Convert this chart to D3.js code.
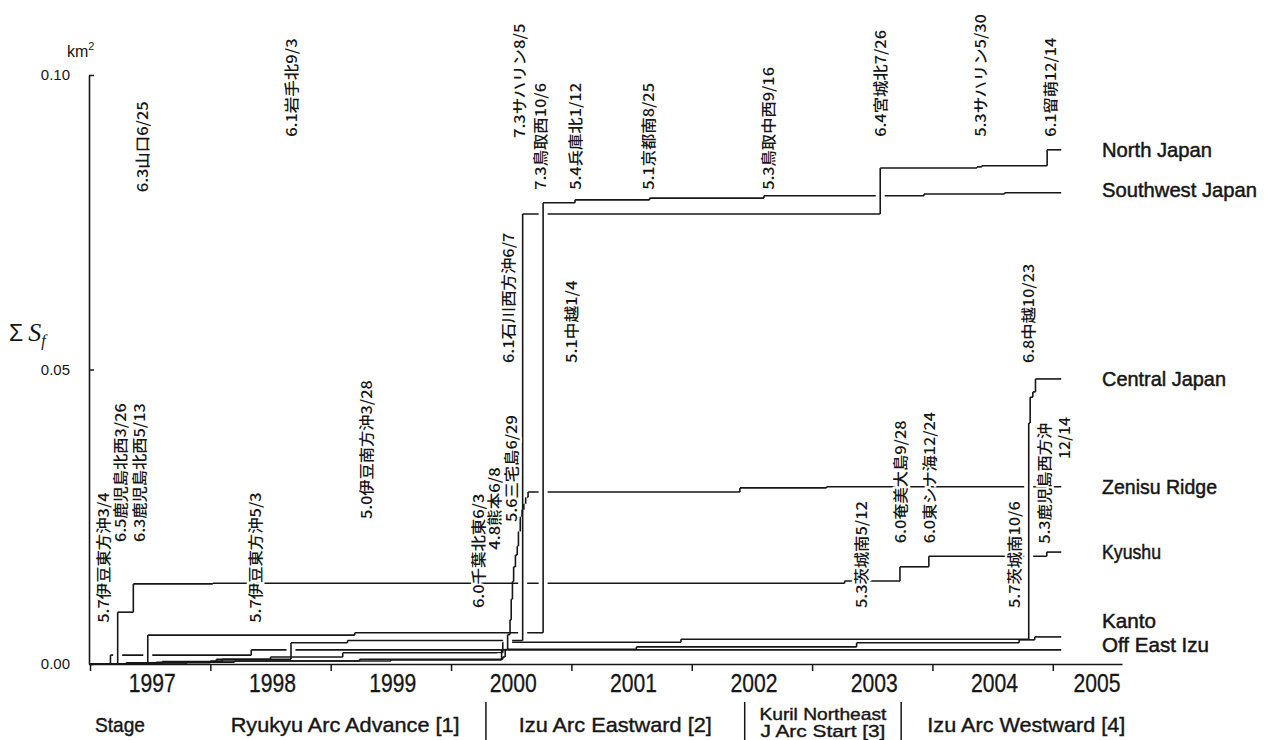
<!DOCTYPE html>
<html>
<head>
<meta charset="utf-8">
<script src="https://cdn.jsdelivr.net/npm/d3@7"></script>
<style>
  body { margin: 0; background: #fff; }
  svg { display: block; }
</style>
</head>
<body>
<svg id="chart" width="1266" height="740"></svg>
<script>
// Cumulative fault area ΣSf (km²) of shallow earthquakes, by region, 1997–2005.
// Each series is a step curve: value holds from its date until the next date.

const seriesEnd = 2005.07;

const northJapanDates  = [1997.0, 1997.55, 1998.05, 1998.67, 1999.14, 2000.595, 2003.566, 2004.37, 2004.41, 2004.953];
const northJapanValues = [0, 0.0003, 0.0008, 0.0036, 0.0040, 0.0764, 0.0842, 0.0844, 0.0846, 0.0873];

const southwestJapanDates  = [1997.0, 1997.48, 1999.2, 2000.765, 2001.03, 2001.65, 2002.6, 2003.93, 2004.6];
const southwestJapanValues = [0, 0.0049, 0.0053, 0.0783, 0.0788, 0.0791, 0.0795, 0.0798, 0.0800];

const centralJapanDates  = [1997.0, 1997.6, 1998.1, 1998.5, 1999.1, 2000.43, 2001.91, 2004.800, 2004.812, 2004.834, 2004.856];
const centralJapanValues = [0, 0.0004, 0.0008, 0.0012, 0.0019, 0.0037, 0.0042, 0.0409, 0.0453, 0.0462, 0.0484];

const zenisuDates  = [1997.0, 1997.8, 1998.2, 1999.24, 2000.43, 2000.45, 2000.47, 2000.49, 2000.50, 2000.51, 2000.52,
                      2000.535, 2000.55, 2000.56, 2000.575, 2000.59, 2000.605, 2000.62, 2000.64, 2002.40, 2003.12];
const zenisuValues = [0, 0.0003, 0.0005, 0.0008, 0.0012, 0.0025, 0.0050, 0.0075, 0.0110, 0.0140, 0.0165,
                      0.0185, 0.0200, 0.0225, 0.0250, 0.0262, 0.0272, 0.0283, 0.0292, 0.0299, 0.0301];

const kyushuDates  = [1997.0, 1997.23, 1997.36, 1998.02, 2003.27, 2003.73, 2003.97, 2004.95];
const kyushuValues = [0, 0.0088, 0.0136, 0.0137, 0.0141, 0.0165, 0.0183, 0.0190];

const kantoDates  = [1997.0, 1997.3, 1998.0, 1999.5, 2000.42, 2001.54, 2003.37, 2004.72, 2004.85];
const kantoValues = [0, 0.0002, 0.0005, 0.0007, 0.0025, 0.0029, 0.0036, 0.0041, 0.0046];

const offEastIzuDates  = [1997.0, 1997.17, 1998.34];
const offEastIzuValues = [0, 0.0015, 0.0024];

const regionNames = ["North Japan", "Southwest Japan", "Central Japan", "Zenisu Ridge", "Kyushu", "Kanto", "Off East Izu"];

// Earthquake annotations: magnitude + place + month/day, at the event date
const quakeTexts = [
  "5.7伊豆東方沖3/4", "6.5鹿児島北西3/26", "6.3鹿児島北西5/13", "6.3山口6/25", "5.7伊豆東方沖5/3",
  "6.1岩手北9/3", "5.0伊豆南方沖3/28", "6.0千葉北東6/3", "4.8熊本6/8", "6.1石川西方沖6/7",
  "5.6三宅島6/29", "7.3サハリン8/5", "7.3鳥取西10/6", "5.1中越1/4", "5.4兵庫北1/12",
  "5.1京都南8/25", "5.3鳥取中西9/16", "5.3茨城南5/12", "6.4宮城北7/26", "6.0奄美大島9/28",
  "6.0東シナ海12/24", "5.3サハリン5/30", "5.7茨城南10/6", "6.8中越10/23", "6.1留萌12/14",
  "5.3鹿児島西方沖", "12/14"
];
const quakeDates = [
  1997.108, 1997.241, 1997.407, 1997.432, 1998.363,
  1998.663, 1999.286, 2000.217, 2000.350, 2000.467,
  2000.492, 2000.558, 2000.733, 2000.990, 2001.024,
  2001.630, 2002.628, 2003.401, 2003.559, 2003.725,
  2003.967, 2004.390, 2004.673, 2004.790, 2004.972,
  2004.920, 2005.090
];
// value on the ΣSf axis where each rotated label starts
const quakeFoot = [
  0.0070, 0.0207, 0.0207, 0.0801, 0.0070,
  0.0895, 0.0246, 0.0095, 0.0194, 0.0511,
  0.0241, 0.0893, 0.0805, 0.0511, 0.0805,
  0.0805, 0.0805, 0.0095, 0.0895, 0.0205,
  0.0205, 0.0895, 0.0095, 0.0511, 0.0895,
  0.0204, 0.0348
];

const yTickValues = [0, 0.05, 0.10];
const yearLabels = ["1997", "1998", "1999", "2000", "2001", "2002", "2003", "2004", "2005"];

const stageNames = ["Ryukyu Arc Advance [1]", "Izu Arc Eastward [2]", "Kuril Northeast|J Arc Start [3]", "Izu Arc Westward [4]"];
const stageStarts = [1997.95, 2000.29, 2002.44, 2003.74];
const stageEnds   = [2000.29, 2002.44, 2003.74, 2005.82];

// ---------------------------------------------------------------------------

const series = [
  { name: regionNames[0], dates: northJapanDates, values: northJapanValues, dy: 7, w: 110 },
  { name: regionNames[1], dates: southwestJapanDates, values: southwestJapanValues, dy: 4, w: 155 },
  { name: regionNames[2], dates: centralJapanDates, values: centralJapanValues, dy: 7, w: 124 },
  { name: regionNames[3], dates: zenisuDates, values: zenisuValues, dy: 7, w: 115 },
  { name: regionNames[4], dates: kyushuDates, values: kyushuValues, dy: 7, w: 59 },
  { name: regionNames[5], dates: kantoDates, values: kantoValues, dy: -9, w: 54 },
  { name: regionNames[6], dates: offEastIzuDates, values: offEastIzuValues, dy: 2, w: 107 }
];

const svg = d3.select("#chart");
const x = d3.scaleLinear().domain([1997, 2005.575]).range([90, 1122]);
const y = d3.scaleLinear().domain([0, 0.10]).range([664, 75]);

const ink = "#161616";
const sans = "'Liberation Sans', Arial, sans-serif";
const jp = "'Noto Sans CJK JP', sans-serif";

// --- axes ---
const yAxis = d3.axisLeft(y).tickValues(yTickValues).tickSize(-5).tickSizeOuter(0)
  .tickPadding(19).tickFormat(d3.format(".2f"));
const gy = svg.append("g").attr("transform", "translate(89,0)").call(yAxis);
gy.select(".domain").attr("stroke", ink).attr("stroke-width", 1.6);
gy.selectAll(".tick line").attr("stroke", ink).attr("stroke-width", 1.5);
gy.selectAll(".tick text").attr("font-family", sans).attr("font-size", 15).attr("fill", ink);

const xAxis = d3.axisBottom(x).tickValues(d3.range(1997, 2006)).tickSize(7).tickSizeOuter(0).tickFormat("");
const gx = svg.append("g").attr("transform", "translate(0,664)").call(xAxis);
gx.select(".domain").attr("stroke", ink).attr("stroke-width", 1.6);
gx.selectAll(".tick line").attr("stroke", ink).attr("stroke-width", 1.5);

svg.append("g").selectAll("text").data(yearLabels).join("text")
  .attr("x", (d, i) => Math.min(x(+d + 0.5) + 2, 1097))
  .attr("y", 692)
  .attr("text-anchor", "middle")
  .attr("font-family", sans).attr("font-size", 26).attr("fill", ink)
  .attr("stroke", ink).attr("stroke-width", 0.3)
  .attr("textLength", 47).attr("lengthAdjust", "spacingAndGlyphs")
  .text(d => d);

// unit and axis title
const unit = svg.append("text").attr("x", 67).attr("y", 57)
  .attr("font-family", sans).attr("font-size", 16).attr("fill", ink);
unit.append("tspan").text("km");
unit.append("tspan").attr("font-size", 11).attr("dy", -7).text("2");

const title = svg.append("text").attr("x", 9).attr("y", 341)
  .attr("font-family", sans).attr("font-size", 23).attr("fill", ink);
title.append("tspan").text("Σ");
title.append("tspan").attr("dx", 5).attr("font-family", "'Liberation Serif', serif")
  .attr("font-style", "italic").attr("font-size", 26).text("S");
title.append("tspan").attr("dy", 5).attr("font-family", "'Liberation Serif', serif")
  .attr("font-style", "italic").attr("font-size", 16).text("f");

// --- step curves: horizontal runs first, then risers with a white halo ---
const hSegs = [], vSegs = [];
series.forEach(s => {
  s.dates.forEach((d, i) => {
    const next = i + 1 < s.dates.length ? s.dates[i + 1] : seriesEnd;
    hSegs.push({ x1: x(d), x2: x(next), y: y(s.values[i]) });
    if (i > 0) vSegs.push({ x: x(d), y1: y(s.values[i - 1]), y2: y(s.values[i]) });
  });
});

const lines = svg.append("g");
lines.selectAll("line.h").data(hSegs).join("line").attr("class", "h")
  .attr("x1", d => d.x1).attr("x2", d => d.x2).attr("y1", d => d.y).attr("y2", d => d.y)
  .attr("stroke", ink).attr("stroke-width", 1.6);

const tall = vSegs.filter(d => Math.abs(d.y1 - d.y2) > 10);
lines.selectAll("line.halo").data(tall).join("line").attr("class", "halo")
  .attr("x1", d => d.x).attr("x2", d => d.x)
  .attr("y1", d => d.y1 - 4).attr("y2", d => d.y2 + 4)
  .attr("stroke", "#fff").attr("stroke-width", 9);
lines.selectAll("line.v").data(vSegs).join("line").attr("class", "v")
  .attr("x1", d => d.x).attr("x2", d => d.x).attr("y1", d => d.y1).attr("y2", d => d.y2)
  .attr("stroke", ink).attr("stroke-width", 1.6);

// --- region names at the right end of each curve ---
svg.append("g").selectAll("text").data(series).join("text")
  .attr("x", 1102)
  .attr("y", d => y(d.values[d.values.length - 1]) + d.dy)
  .attr("font-family", sans).attr("font-size", 21).attr("fill", ink)
  .attr("stroke", ink).attr("stroke-width", 0.5)
  .attr("textLength", d => d.w).attr("lengthAdjust", "spacingAndGlyphs")
  .text(d => d.name);

// --- earthquake labels, written upward ---
const textLen = t => Array.from(t).reduce((a, c) => a + (c.codePointAt(0) >= 0x3000 ? 16 : 8.4), 0);
svg.append("g").selectAll("text").data(quakeTexts).join("text")
  .attr("transform", (t, i) => `translate(${x(quakeDates[i])},${y(quakeFoot[i])}) rotate(-90)`)
  .attr("dominant-baseline", "central")
  .attr("font-family", jp).attr("font-size", 15).attr("font-weight", 500).attr("fill", ink)
  .attr("stroke", "#fff").attr("stroke-width", 4).attr("paint-order", "stroke")
  .attr("textLength", t => textLen(t)).attr("lengthAdjust", "spacingAndGlyphs")
  .text(t => t);

// --- stage row ---
const stageG = svg.append("g").attr("font-family", sans).attr("fill", ink)
  .attr("stroke", ink).attr("stroke-width", 0.4);
stageG.append("text").attr("x", 95).attr("y", 732).attr("font-size", 21)
  .attr("textLength", 50).attr("lengthAdjust", "spacingAndGlyphs").text("Stage");

const stageW = [229, 193, 127, 198];
stageNames.forEach((nm, i) => {
  const cx = (x(stageStarts[i]) + x(stageEnds[i])) / 2;
  const parts = nm.split("|");
  if (parts.length === 1) {
    stageG.append("text").attr("x", cx).attr("y", 732).attr("text-anchor", "middle")
      .attr("font-size", 21).attr("textLength", stageW[i]).attr("lengthAdjust", "spacingAndGlyphs").text(nm);
  } else {
    parts.forEach((p, k) => {
      stageG.append("text").attr("x", cx).attr("y", 720 + k * 17).attr("text-anchor", "middle")
        .attr("font-size", 17).attr("textLength", k === 0 ? 127 : 125)
        .attr("lengthAdjust", "spacingAndGlyphs").text(p);
    });
  }
});
stageG.selectAll("line").data(stageStarts.slice(1)).join("line")
  .attr("x1", d => x(d)).attr("x2", d => x(d)).attr("y1", 702).attr("y2", 740)
  .attr("stroke", ink).attr("stroke-width", 1.5);
</script>
</body>
</html>
